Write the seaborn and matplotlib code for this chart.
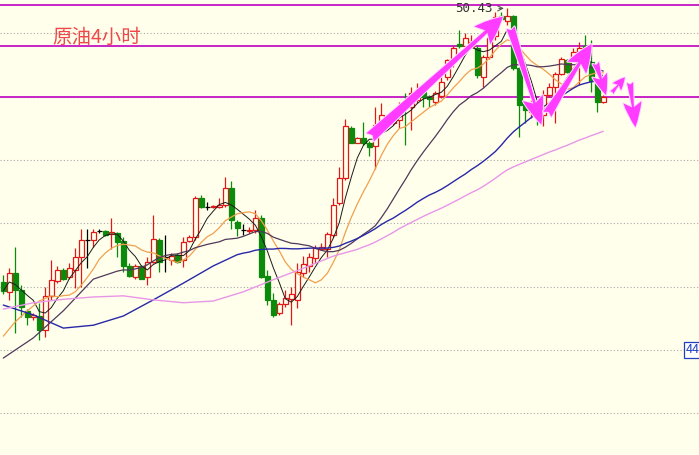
import numpy as np
import pandas as pd
import matplotlib
matplotlib.use("Agg")
import matplotlib.pyplot as plt
import matplotlib.patheffects as pe
from matplotlib.patches import FancyArrowPatch, ArrowStyle
from matplotlib.transforms import blended_transform_factory
import seaborn as sns

# 4-hour crude oil candles
opens = [45.68, 45.51, 45.83, 45.55, 45.18, 45.07, 45.09, 44.85, 45.43, 45.70,
         45.89, 45.77, 45.89, 46.12, 46.41, 46.41, 46.57, 46.57, 46.51, 46.53,
         46.40, 45.95, 45.77, 45.95, 45.76, 46.03, 46.41, 46.12, 46.06, 46.15,
         46.06, 46.40, 46.46, 47.13, 46.99, 46.98, 46.98, 47.02, 47.32, 46.73,
         46.58, 46.57, 46.58, 46.80, 45.78, 45.37, 45.15, 45.30, 45.38, 45.37,
         45.84, 45.96, 46.09, 46.25, 46.25, 46.50, 47.05, 47.48, 48.36, 48.10,
         48.18, 48.09, 48.04, 48.44, 48.55, 48.44, 48.49, 48.72, 48.72, 48.84,
         48.98, 48.90, 48.81, 48.91, 49.24, 49.51, 49.82, 49.77, 49.76, 49.74,
         49.24, 49.59, 49.95, 50.29, 50.22, 50.29, 49.39, 48.77, 48.63, 48.74,
         48.58, 48.93, 49.07, 49.30, 49.53, 49.34, 49.62, 49.78, 49.50, 49.17,
         48.81]
highs = [45.80, 45.92, 46.29, 45.63, 45.22, 45.14, 45.31, 45.60, 46.06, 45.95,
         45.92, 46.01, 46.27, 46.60, 46.60, 46.60, 46.60, 46.58, 46.79, 46.55,
         46.46, 46.01, 45.99, 45.98, 46.12, 46.84, 46.44, 46.50, 46.18, 46.18,
         46.46, 46.50, 47.17, 47.19, 47.07, 47.02, 47.13, 47.51, 47.44, 46.76,
         46.69, 46.64, 46.93, 46.84, 45.89, 45.49, 45.34, 45.54, 45.60, 46.01,
         46.13, 46.18, 46.32, 46.36, 46.55, 47.14, 47.68, 48.51, 48.38, 48.20,
         48.45, 48.12, 48.72, 48.78, 48.58, 48.54, 48.81, 48.96, 49.07, 49.13,
         49.01, 48.93, 49.00, 49.27, 49.56, 49.77, 50.06, 50.00, 49.97, 49.77,
         49.62, 50.06, 50.37, 50.37, 50.43, 50.32, 49.42, 48.81, 48.84, 48.77,
         49.01, 49.13, 49.33, 49.58, 49.55, 49.74, 49.85, 49.97, 49.88, 49.19,
         48.93]
lows = [45.48, 45.37, 44.80, 45.08, 44.93, 45.02, 44.67, 44.73, 45.37, 45.67,
        45.72, 45.74, 45.57, 45.60, 45.92, 46.29, 46.53, 46.48, 46.25, 46.12,
        45.86, 45.77, 45.74, 45.73, 45.63, 46.01, 45.86, 45.86, 45.98, 46.01,
        45.94, 46.38, 46.41, 46.96, 46.93, 46.96, 46.96, 46.98, 46.60, 46.48,
        46.50, 46.53, 46.53, 45.75, 45.28, 45.08, 45.11, 45.25, 44.93, 45.23,
        45.77, 45.86, 46.01, 46.24, 46.12, 46.47, 47.02, 47.45, 48.09, 48.09,
        48.06, 47.86, 47.65, 48.42, 48.41, 48.41, 48.35, 48.06, 48.32, 48.78,
        48.72, 48.72, 48.75, 48.88, 49.19, 49.42, 49.74, 49.74, 49.74, 49.22,
        49.07, 49.56, 49.88, 50.23, 50.14, 49.36, 48.20, 48.44, 48.53, 48.41,
        48.38, 48.89, 48.44, 49.27, 49.31, 49.31, 49.10, 49.53, 48.98, 48.64,
        48.78]
closes = [45.53, 45.83, 45.55, 45.25, 45.08, 45.10, 44.85, 45.43, 45.72, 45.89,
          45.74, 45.92, 46.12, 46.41, 46.41, 46.55, 46.57, 46.50, 46.55, 46.38,
          45.95, 45.78, 45.96, 45.74, 46.02, 46.42, 46.03, 46.12, 46.13, 46.03,
          46.38, 46.46, 47.13, 46.98, 46.99, 47.00, 47.02, 47.32, 46.76, 46.61,
          46.58, 46.59, 46.80, 45.77, 45.37, 45.11, 45.30, 45.40, 45.47, 45.86,
          45.99, 46.12, 46.27, 46.28, 46.51, 47.02, 47.48, 48.39, 48.10, 48.18,
          48.09, 48.03, 48.41, 48.58, 48.44, 48.51, 48.72, 48.70, 48.96, 49.01,
          48.90, 48.85, 48.96, 49.15, 49.53, 49.74, 49.77, 49.91, 49.85, 49.27,
          49.59, 49.91, 50.28, 50.24, 50.29, 49.39, 48.75, 48.67, 48.74, 48.53,
          48.93, 49.07, 49.30, 49.55, 49.33, 49.67, 49.74, 49.57, 49.17, 48.81,
          48.90]

# moving-average values before each window fills
ma10_head_idx = [0, 2, 4, 6, 8]
ma10_head = [44.74, 44.99, 45.18, 45.35, 45.44]
ma20_head_idx = [0, 5, 10, 15]
ma20_head = [44.36, 44.71, 45.18, 45.73]
ma40_head_idx = [0, 5, 10, 15, 20, 25, 30, 35]
ma40_head = [45.28, 45.11, 44.88, 44.93, 45.09, 45.37, 45.66, 45.96]
ma60_head_idx = [0, 5, 10, 15, 20, 25, 30, 35, 40, 45, 50, 55]
ma60_head = [45.21, 45.32, 45.38, 45.42, 45.44, 45.37, 45.32, 45.35, 45.51, 45.72, 45.92, 46.13]

grid_levels = [43.4, 44.5, 45.6, 46.7, 47.8, 48.9, 50.0]
pink_levels = [50.49, 49.78, 48.89]
high_label = 50.43
axis_label = "44.50"
title = "原油4小时"

BG = "#ffffec"
RED = "#e01818"
GREEN = "#0c8a0c"
MAGENTA = "#c414c4"
ARROW = "#ff3cff"

sns.set_theme(style="white")
plt.rcParams["font.family"] = ["Noto Sans CJK SC", "DejaVu Sans"]

fig = plt.figure(figsize=(6.99, 4.55), dpi=100, facecolor=BG)
ax = fig.add_axes([0, 0, 1, 1])
ax.set_facecolor(BG)
ax.set_xlim(-0.55, 115.95)
ax.set_ylim(42.677, 50.576)
ax.set_xticks([])
ax.set_yticks([])
for s in ax.spines.values():
    s.set_visible(False)

for lv in grid_levels:
    ax.axhline(lv, color="#a8a8a8", lw=0.8, ls=(0, (1, 2)), zorder=0)
for lv in pink_levels:
    ax.axhline(lv, color=MAGENTA, lw=1.3, zorder=1)

df = pd.DataFrame({"o": opens, "h": highs, "l": lows, "c": closes})
df["x"] = np.arange(len(df))
W = 0.8
up = df[df.c > df.o]
dn = df[df.c < df.o]
dj = df[df.c == df.o]
for sub, col in [(up, RED), (dn, GREEN), (dj, "black")]:
    top = sub[["o", "c"]].max(axis=1)
    bot = sub[["o", "c"]].min(axis=1)
    ax.vlines(sub.x, top, sub.h, color=col, lw=0.9, zorder=2)
    ax.vlines(sub.x, sub.l, bot, color=col, lw=0.9, zorder=2)
ax.bar(up.x, up.c - up.o, bottom=up.o, width=W, facecolor=BG, edgecolor=RED, lw=0.9, zorder=2)
ax.bar(dn.x, dn.o - dn.c, bottom=dn.c, width=W, color=GREEN, edgecolor=GREEN, lw=0.9, zorder=2)
ax.hlines(dj.o, dj.x - W / 2, dj.x + W / 2, color="black", lw=0.9, zorder=2)

# moving averages
close_s = pd.Series(closes)


def ma_line(n, head_idx, head_vals):
    roll = close_s.rolling(n).mean()
    xs = list(head_idx) + list(range(n - 1, len(closes)))
    ys = list(head_vals) + list(roll.iloc[n - 1:])
    return xs, ys


ma5 = close_s.rolling(5, min_periods=1).mean()
sns.lineplot(x=df.x, y=ma5, ax=ax, color="#1a1a1a", lw=0.7, estimator=None, zorder=3)
for n, hi, hv, col, lw in [(10, ma10_head_idx, ma10_head, "#f0a050", 0.9),
                           (20, ma20_head_idx, ma20_head, "#50385a", 0.9),
                           (40, ma40_head_idx, ma40_head, "#2828a8", 1.0),
                           (60, ma60_head_idx, ma60_head, "#e896e8", 1.0)]:
    xs, ys = ma_line(n, hi, hv)
    sns.lineplot(x=xs, y=ys, ax=ax, color=col, lw=lw, estimator=None, zorder=3)

# hand-drawn arrows
arrows = [((60.8, 48.16), (83.6, 50.32), 1.7, 2.0, 0.8),
          ((84.4, 50.14), (89.8, 48.37), 1.5, 2.0, 0.6),
          ((90.4, 48.55), (98.3, 49.85), 1.6, 2.0, 0.7),
          ((98.6, 49.53), (100.6, 48.88), 1.1, 1.5, 0.5),
          ((101.1, 48.93), (103.9, 49.27), 0.8, 0.9, 0.3),
          ((104.4, 49.19), (105.4, 48.32), 1.3, 1.8, 0.45)]
for a, b, hw, hl, tw in arrows:
    p = FancyArrowPatch(a, b, arrowstyle=ArrowStyle.Fancy(head_length=hl, head_width=hw, tail_width=tw),
                        mutation_scale=10, color=ARROW, lw=0, zorder=6,
                        path_effects=[pe.withStroke(linewidth=1.5, foreground="#ffdcff")])
    ax.add_patch(p)

ax.annotate(f"{high_label:.2f}", xy=(83.9, high_label), xytext=(81.6, high_label),
            ha="right", va="center", fontsize=9, color="#333333", family="DejaVu Sans Mono",
            arrowprops=dict(arrowstyle="->", color="#555555", lw=0.8), zorder=7)

ax.text(0.0744, 0.917, title, transform=ax.transAxes, fontsize=14, color="#f04848",
        va="center", ha="left", zorder=7)

# right-hand price label, partly cut by the edge as in the original
tr = blended_transform_factory(ax.transAxes, ax.transData)
ax.text(0.981, 44.5, axis_label, transform=tr, fontsize=9, color="#2040c0", va="center",
        ha="left", clip_on=False, zorder=7,
        bbox=dict(boxstyle="square,pad=0.15", fc="white", ec="#2040c0", lw=0.9))

fig.savefig("out.png", dpi=100, facecolor=BG)
